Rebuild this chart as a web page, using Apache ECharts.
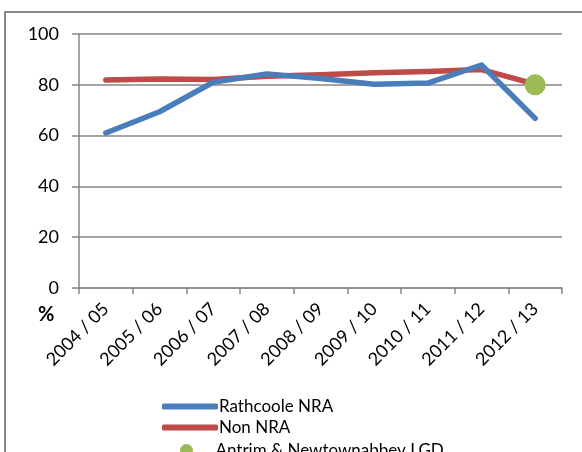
<!DOCTYPE html>
<html><head><meta charset="utf-8">
<script src="https://cdn.jsdelivr.net/npm/echarts@6/dist/echarts.min.js"></script>
<style>html,body{margin:0;padding:0;background:#fff}#c{width:582px;height:452px}</style>
</head><body><div id="c"></div>
<script>
const categories = ['2004 / 05','2005 / 06','2006 / 07','2007 / 08','2008 / 09','2009 / 10','2010 / 11','2011 / 12','2012 / 13'];
const rathcoole = [61, 69.4, 81, 84.3, 82.5, 80.2, 80.7, 87.8, 66.8];
const nonNRA = [81.9, 82.3, 82.1, 83.4, 84, 84.7, 85.2, 86, 80.3];
const lgd = [null, null, null, null, null, null, null, null, 80];
const yTicks = {min: 0, max: 100, interval: 20};
const FONT = 'Lato';
const legendText = {fontSize: 17, color: '#000', fontFamily: FONT, padding: [0, 0, 0, -4]};
function lineLegend(name, top) {
  return {orient: 'vertical', left: 157, top: top, itemWidth: 56, itemHeight: 6, itemGap: 0,
    icon: 'roundRect', itemStyle: {borderRadius: 3}, textStyle: legendText, data: [name]};
}
const chart = echarts.init(document.getElementById('c'));
chart.setOption({
  animation: false,
  textStyle: {fontFamily: FONT},
  grid: {left: 79, right: 20, top: 34, bottom: 164},
  graphic: [
    {type: 'rect', shape: {x: 5, y: 12, width: 640, height: 500}, style: {fill: 'none', stroke: '#898989', lineWidth: 2}, silent: true},
    {type: 'text', left: 38, top: 305, style: {text: '%', font: 'bold 20px ' + FONT, fill: '#000'}}
  ],
  xAxis: {
    type: 'category', data: categories, boundaryGap: true,
    axisLine: {lineStyle: {color: '#868686', width: 1.5}},
    axisTick: {show: true, interval: 0, length: 6, lineStyle: {color: '#868686', width: 1.5}},
    axisLabel: {interval: 0, rotate: 45, margin: 18, color: '#000', fontSize: 18, fontFamily: FONT}
  },
  yAxis: {
    type: 'value', min: yTicks.min, max: yTicks.max, interval: yTicks.interval,
    axisLine: {show: true, lineStyle: {color: '#868686', width: 1.5}},
    axisTick: {show: true, length: 7, lineStyle: {color: '#868686', width: 1.5}},
    axisLabel: {margin: 20, color: '#000', fontSize: 18, fontFamily: FONT},
    splitLine: {lineStyle: {color: '#868686', width: 1.5}}
  },
  legend: [
    lineLegend('Rathcoole NRA', 393),
    lineLegend('Non NRA', 414),
    {orient: 'vertical', left: 175, top: 437, itemWidth: 56, itemHeight: 13, itemGap: 0,
      icon: 'circle', textStyle: legendText, data: ['Antrim & Newtownabbey LGD']}
  ],
  series: [
    {name: 'Rathcoole NRA', type: 'line', data: rathcoole, symbol: 'none', lineStyle: {color: '#4a7ebb', width: 5.5, cap: 'round', join: 'round'}, itemStyle: {color: '#4a7ebb'}, z: 3},
    {name: 'Non NRA', type: 'line', data: nonNRA, symbol: 'none', lineStyle: {color: '#be4b48', width: 5.5, cap: 'round', join: 'round'}, itemStyle: {color: '#be4b48'}, z: 2},
    {name: 'Antrim & Newtownabbey LGD', type: 'scatter', data: lgd, symbol: 'circle', symbolSize: 21, itemStyle: {color: '#9bbb59', opacity: 1}, z: 4}
  ]
});
</script></body></html>
